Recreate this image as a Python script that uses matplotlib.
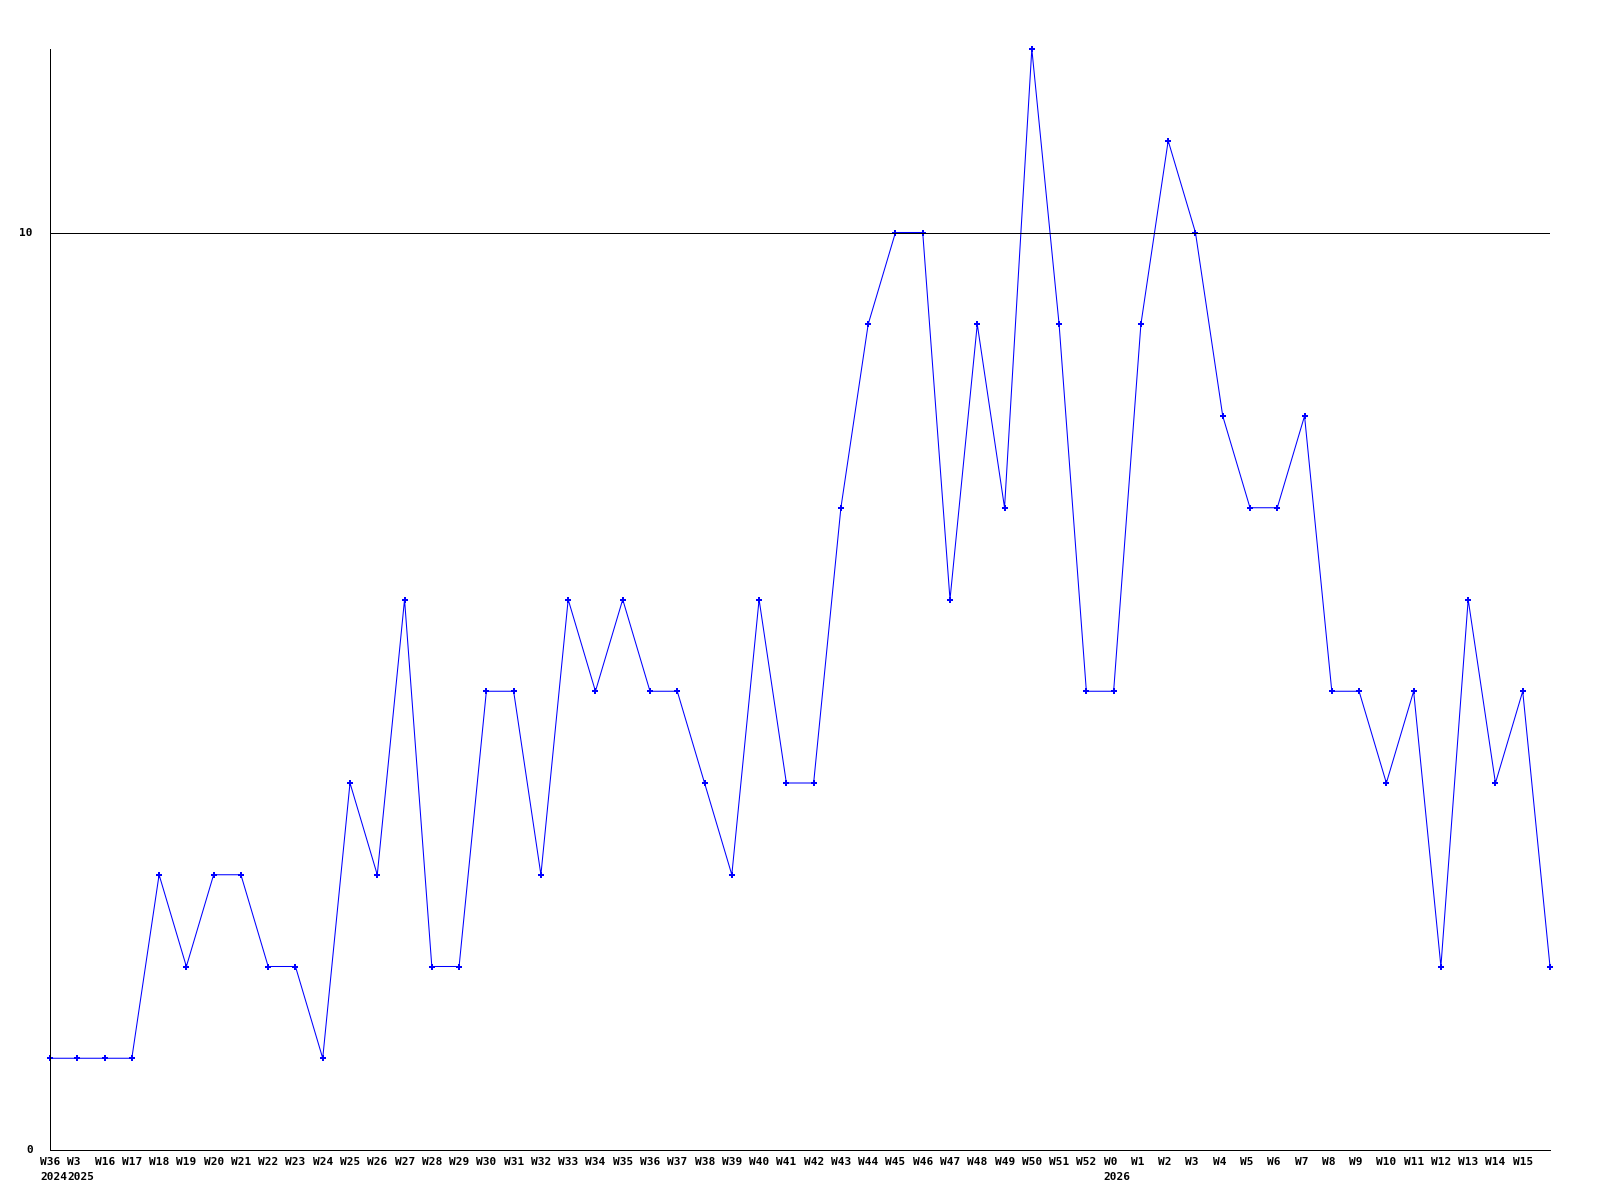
import matplotlib
matplotlib.use('Agg')
import matplotlib.pyplot as plt
import matplotlib.transforms as mtransforms

# weekly counts
semanas = ['W36', 'W3', 'W16', 'W17', 'W18', 'W19', 'W20', 'W21', 'W22', 'W23',
           'W24', 'W25', 'W26', 'W27', 'W28', 'W29', 'W30', 'W31', 'W32', 'W33',
           'W34', 'W35', 'W36', 'W37', 'W38', 'W39', 'W40', 'W41', 'W42', 'W43',
           'W44', 'W45', 'W46', 'W47', 'W48', 'W49', 'W50', 'W51', 'W52', 'W0',
           'W1', 'W2', 'W3', 'W4', 'W5', 'W6', 'W7', 'W8', 'W9', 'W10',
           'W11', 'W12', 'W13', 'W14', 'W15', '']
anos = {0: '2024', 1: '2025', 39: '2026'}
valores = [1, 1, 1, 1, 3, 2, 3, 3, 2, 2,
           1, 4, 3, 6, 2, 2, 5, 5, 3, 6,
           5, 6, 5, 5, 4, 3, 6, 4, 4, 7,
           9, 10, 10, 6, 9, 7, 12, 9, 5, 5,
           9, 11, 10, 8, 7, 7, 8, 5, 5, 4,
           5, 2, 6, 4, 5, 2]
y_ticks = [0, 10]

fonte = dict(family='DejaVu Sans Mono', fontweight='bold', fontsize=8)
lw = 0.72  # 1 pixel a 100 dpi

fig = plt.figure(figsize=(16, 12), dpi=100)
ax = fig.add_axes([50 / 1600, 50 / 1200, 1500 / 1600, 1101 / 1200])

x = list(range(len(valores)))
ax.plot(x, valores, color='#0000ff', linewidth=0.75, antialiased=True,
        marker='P', markersize=4.5, markeredgewidth=0, clip_on=False)
ax.axhline(10, color='black', linewidth=lw, antialiased=False, zorder=3)

ax.set_xlim(0, len(valores) - 1)
ax.set_ylim(0, 12)
for s in ['top', 'right']:
    ax.spines[s].set_visible(False)
for s in ['left', 'bottom']:
    ax.spines[s].set_linewidth(lw)
    ax.spines[s].set_antialiased(False)

ax.set_xticks([])
ax.set_yticks([])

# rótulos do eixo y
off_y = mtransforms.offset_copy(ax.transData, fig=fig, x=-17, y=0, units='dots')
for t in y_ticks:
    ax.text(0, t, str(t), transform=off_y, ha='right', va='center', **fonte)

# rótulos do eixo x (semana e ano)
off_w = mtransforms.offset_copy(ax.get_xaxis_transform(), fig=fig, x=-10, y=-12, units='dots')
off_a = mtransforms.offset_copy(ax.get_xaxis_transform(), fig=fig, x=-10, y=-27, units='dots')
for i, s in enumerate(semanas):
    ax.text(i, 0, s, transform=off_w, ha='left', va='center', **fonte)
for i, a in anos.items():
    ax.text(i, 0, a, transform=off_a, ha='left', va='center', **fonte)

fig.savefig('out.png', dpi=100)
